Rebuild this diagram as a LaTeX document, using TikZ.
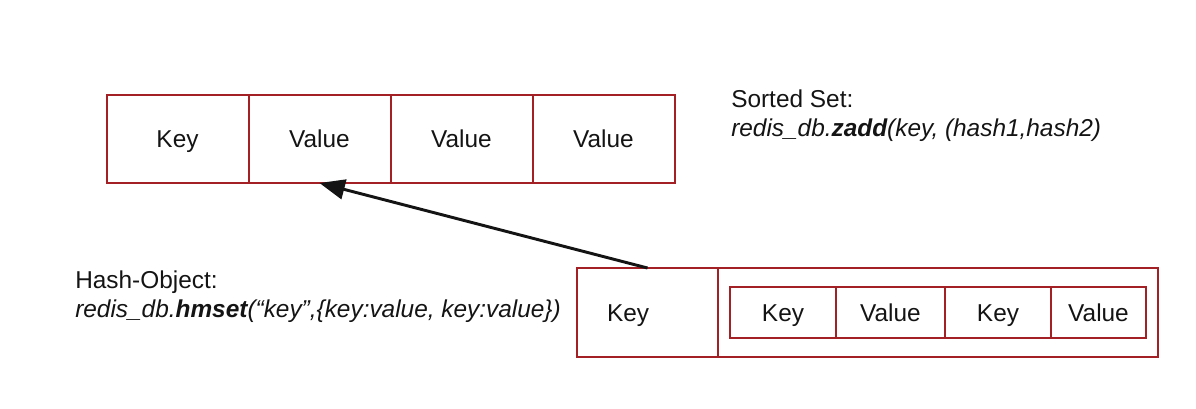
\documentclass[tikz,border=0pt]{standalone}
\usepackage{fontspec}
\setmainfont{Liberation Sans}
\usepackage{tikz}
\usetikzlibrary{positioning,arrows.meta}
\definecolor{redisred}{RGB}{163,32,36}
\definecolor{redisink}{RGB}{20,20,20}

\begin{document}
\begin{tikzpicture}[
    x=0.75pt, y=-0.75pt,
    every node/.style={font=\fontsize{18.3}{22}\selectfont, text=redisink},
    cell/.style={draw=redisred, line width=1.5pt, outer sep=0pt, inner sep=0pt, text height=13.1pt, text depth=0pt, minimum width=106.5pt, minimum height=66pt},
    hcell/.style={draw=redisred, line width=1.5pt, outer sep=0pt, inner sep=0pt, text height=13.1pt, text depth=0pt, minimum height=38.25pt},
    caption/.style={anchor=west, align=left, inner sep=0pt}
  ]
    \useasboundingbox (0,0) rectangle (1196,408);

    % Sorted Set
    \node[cell] (sk) at (177.5,139) {Key};
    \node[cell, right=0pt of sk] (sv1) {Value};
    \node[cell, right=0pt of sv1] (sv2) {Value};
    \node[cell, right=0pt of sv2] (sv3) {Value};
    \node[caption] (ztext) at (731,116) {Sorted Set:\\ \textit{redis\_db.\textbf{zadd}(key, (hash1,hash2)}};

    % Hash-Object
    \node[cell, minimum width=435.75pt, minimum height=66.75pt] (hash) at (867.5,312.5) {};
    \node[cell, anchor=west, minimum width=105.75pt, minimum height=66.75pt,
          text width=60.75pt, inner xsep=22.5pt, align=left] (hk) at (hash.west) {Key};
    \node[hcell, anchor=west, minimum width=79.5pt] (ik1) at (730,312.5) {Key};
    \node[hcell, right=0pt of ik1, minimum width=81.75pt] (iv1) {Value};
    \node[hcell, right=0pt of iv1, minimum width=79.5pt] (ik2) {Key};
    \node[hcell, right=0pt of ik2, minimum width=71.25pt] (iv2) {Value};
    \node[caption] (htext) at (75,297) {Hash-Object:\\ \textit{redis\_db.\textbf{hmset}(“key”,\{key:value, key:value\})}};

    % Verweis
    \draw[-{Triangle[length=19pt, width=15pt]}, line width=2.2pt, redisink] (hk.north) -- (sv1.south);
  \end{tikzpicture}
\end{document}
